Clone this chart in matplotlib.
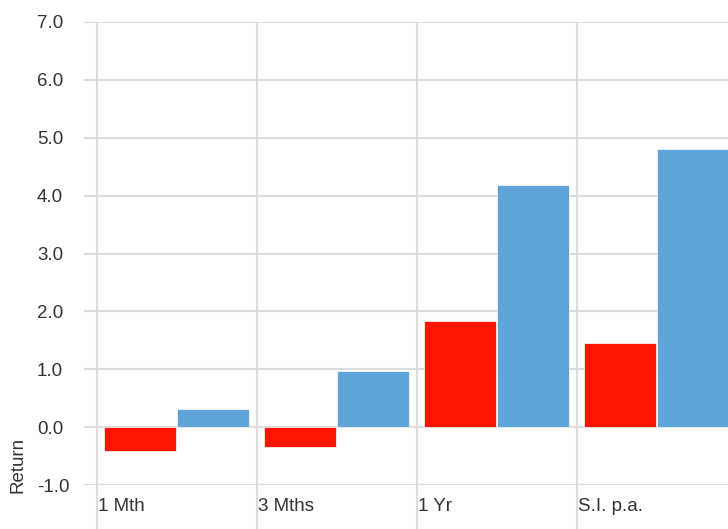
import matplotlib
matplotlib.use("Agg")
import matplotlib.pyplot as plt
import numpy as np

categories = ["1 Mth", "3 Mths", "1 Yr", "S.I. p.a."]
fund = [-0.41, -0.34, 1.83, 1.45]
benchmark = [0.31, 0.97, 4.19, 4.81]
yticks = [-1.0, 0.0, 1.0, 2.0, 3.0, 4.0, 5.0, 6.0, 7.0]

plt.rcParams['font.family'] = ['Liberation Sans', 'DejaVu Sans']
W, H = 728, 529
fig = plt.figure(figsize=(W/100, H/100), dpi=100)
ax_left, ax_right, ax_top, ax_bot = 84, 728, 22, 485
ax = fig.add_axes([ax_left/W, 1-ax_bot/H, (ax_right-ax_left)/W, (ax_bot-ax_top)/H])

grid_c = "#dcdcdc"
fs = 13.5
tc = "#333333"
x = np.arange(len(categories))
ax.bar(x + 0.269, fund, width=0.45, color="#FF1400", edgecolor="white", linewidth=0.5, zorder=3)
ax.bar(x + 0.725, benchmark, width=0.45, color="#5DA5DA", edgecolor="white", linewidth=0.5, zorder=3)

ax.set_yticks(yticks)
ax.set_yticklabels([f"{v:.1f}" for v in yticks], fontsize=fs, color=tc, ha='left')
ax.tick_params(axis='y', length=0, pad=(84-37)*0.72)
ax.yaxis.grid(True, color=grid_c, linewidth=1.5, zorder=0)

ax.set_xticks(list(x) + [len(categories)])
ax.set_xticklabels([])
ax.tick_params(axis='x', length=44/100*72, width=1.5, color=grid_c, direction='out')
ax.xaxis.grid(True, color=grid_c, linewidth=1.5, zorder=0)
ax.set_xlim(-13/160, (728-97)/160)
ax.set_ylim(-1, 7)
for s in ax.spines.values():
    s.set_visible(False)

for i, c in enumerate(categories):
    ax.text(i + 1.5/160, -1 - 21/57.8, c, ha='left', va='center', fontsize=fs, color=tc)

fig.text(18.5/W, 1-465/H, "Return", rotation=90, ha='center', va='center', fontsize=fs, color=tc)

fig.savefig("out.png", dpi=100)
